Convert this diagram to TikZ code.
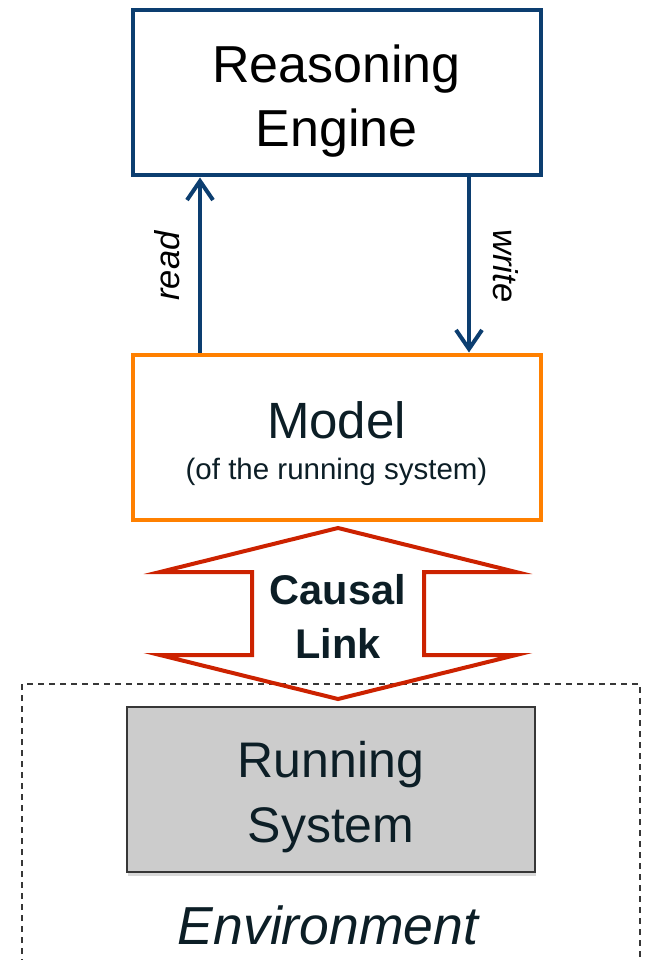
\documentclass[tikz,border=0pt]{standalone}
\usepackage{fontspec}
\setmainfont{Liberation Sans}
\usetikzlibrary{arrows.meta,shadows}
\definecolor{engblue}{RGB}{12,62,112}
\definecolor{modorange}{RGB}{255,128,0}
\definecolor{linkred}{RGB}{204,34,0}
\definecolor{inkdark}{RGB}{12,30,38}
\definecolor{sysgray}{RGB}{204,204,204}
\definecolor{sysedge}{RGB}{55,55,55}
\begin{document}
\begin{tikzpicture}[x=1pt,y=-1pt,
  >={Straight Barb[length=19pt,width=26pt]},
  box/.style={minimum width=408pt,minimum height=165pt,align=center,inner sep=0pt},
  flow/.style={line width=4pt,engblue,->},
  tag/.style={font=\fontsize{34.5}{40}\selectfont\itshape,text=black}]
\useasboundingbox (0,0) rectangle (646,960);
\draw[sysedge,line width=1.5pt,dash pattern=on 6pt off 5pt] (22,965) -- (22,684) -- (640,684) -- (640,965);
\node[box,draw=engblue,line width=4pt,font=\fontsize{52}{64}\selectfont] (engine) at (336.5,93) {\rule{0pt}{54pt}Reasoning\\Engine};
\node[box,draw=modorange,line width=4pt,text=inkdark,font=\fontsize{51}{41}\selectfont] (model) at (336.5,437) {\rule{0pt}{51pt}Model\\{\fontsize{29.5}{41}\selectfont (of the running system)}};
\node[box,draw=sysedge,line width=1.5pt,fill=sysgray,text=inkdark,drop shadow={shadow xshift=1pt,shadow yshift=-4pt,opacity=0.3},font=\fontsize{50}{65}\selectfont] (system) at (331,789.5) {\rule{0pt}{52pt}Running\\System};
\node[text=inkdark,font=\fontsize{53.5}{60}\selectfont\itshape] (env) at (328,925) {Environment};
\draw[flow] ([xshift=69.5pt]model.north west) -- ([xshift=69.5pt]engine.south west);
\draw[flow] ([xshift=-73.5pt]engine.south east) -- ([xshift=-73.5pt]model.north east);
\node[tag,rotate=90] (readtag) at (167,266) {read};
\node[tag,rotate=-90] (writetag) at (506,266) {write};
\draw[linkred,line width=4pt,line join=miter] (338,528) -- (516,572) -- (424,572) -- (424,655) -- (516,655) -- (338,699) -- (160,655) -- (252,655) -- (252,572) -- (160,572) -- cycle;
\node[text=inkdark,font=\fontsize{41.5}{54}\selectfont\bfseries,align=center] (causal) at (338,616) {Causal\\Link};
\end{tikzpicture}
\end{document}
